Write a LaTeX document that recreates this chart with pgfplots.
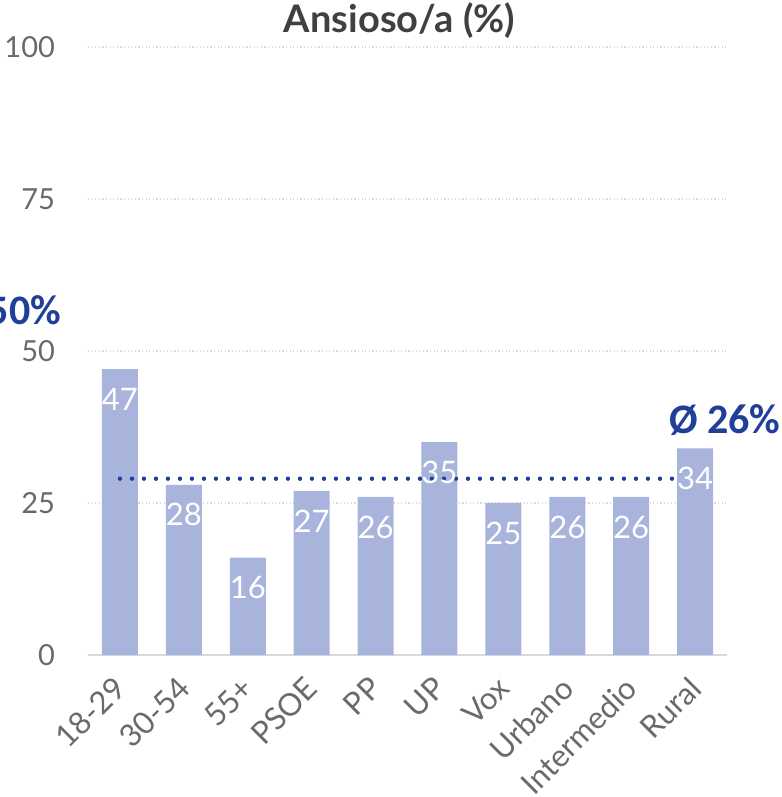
\documentclass[border=0pt]{standalone}
\usepackage{fontspec}
\setmainfont{Lato}
\newfontfamily\calib{Carlito}
\usepackage{pgfplots}
\pgfplotsset{compat=1.18}
\definecolor{barblue}{HTML}{A8B4DC}
\definecolor{navy}{HTML}{1F3F99}
\definecolor{tickgray}{HTML}{6A6A6A}
\definecolor{titlegray}{HTML}{404040}
\definecolor{gridgray}{HTML}{D9D9D9}
\begin{document}
\begin{tikzpicture}
\begin{axis}[
  at={(0,0)}, anchor=south west,
  scale only axis, width=319.5pt, height=304pt,
  xmin=-0.5, xmax=9.5, ymin=0, ymax=100,
  ytick={0,25,50,75,100},
  xtick={0,...,9},
  xticklabels={18-29,30-54,55+,PSOE,PP,UP,Vox,Urbano,Intermedio,Rural},
  /pgf/number format/assume math mode=true,
  axis x line*=bottom,
  axis y line*=left,
  x axis line style={gridgray, line width=1pt, -},
  y axis line style={draw=none},
  major tick length=0pt,
  ymajorgrids, grid style={gridgray, line width=0.8pt, dash pattern=on 0.6pt off 1.2pt},
  yticklabel style={font=\fontsize{14.5}{14.5}\selectfont, text=tickgray, anchor=east, xshift=-13pt},
  xticklabel style={font=\fontsize{15.5}{15.5}\selectfont, text=tickgray, xshift=-4pt, yshift=-5pt, rotate=45, anchor=north east},
  title={Ansioso/a (\%)},
  title style={font=\bfseries\fontsize{19}{19}\selectfont, text=titlegray, at={(0.5,1)}, anchor=center, yshift=7pt, xshift=-4pt},
  clip=false,
]
\addplot[ybar, bar width=18pt, fill=barblue, draw=none,
  nodes near coords, point meta=y,
  every node near coord/.append style={font=\fontsize{15.5}{15.5}\selectfont, text=white, anchor=center, yshift=-15pt}]
  coordinates {(0,47)(1,28)(2,16)(3,27)(4,26)(5,35)(6,25)(7,26)(8,26)(9,34)};
\addplot[navy, line width=2.2pt, line cap=round, dash pattern=on 0pt off 6pt, mark=none]
  coordinates {(0,29)(8.8,29)};
\node[anchor=east, text=navy, font=\calib\bfseries\fontsize{21}{21}\selectfont] at (axis cs:-0.81,56.7) {50\%};
\node[anchor=west, text=navy, font=\calib\bfseries\fontsize{21}{21}\selectfont, inner sep=0pt] at (axis cs:8.59,38.6) {Ø 26\%};
\end{axis}
\pgfresetboundingbox
\useasboundingbox (-44pt,-71pt) rectangle (346.5pt,327.5pt);
\end{tikzpicture}
\end{document}
